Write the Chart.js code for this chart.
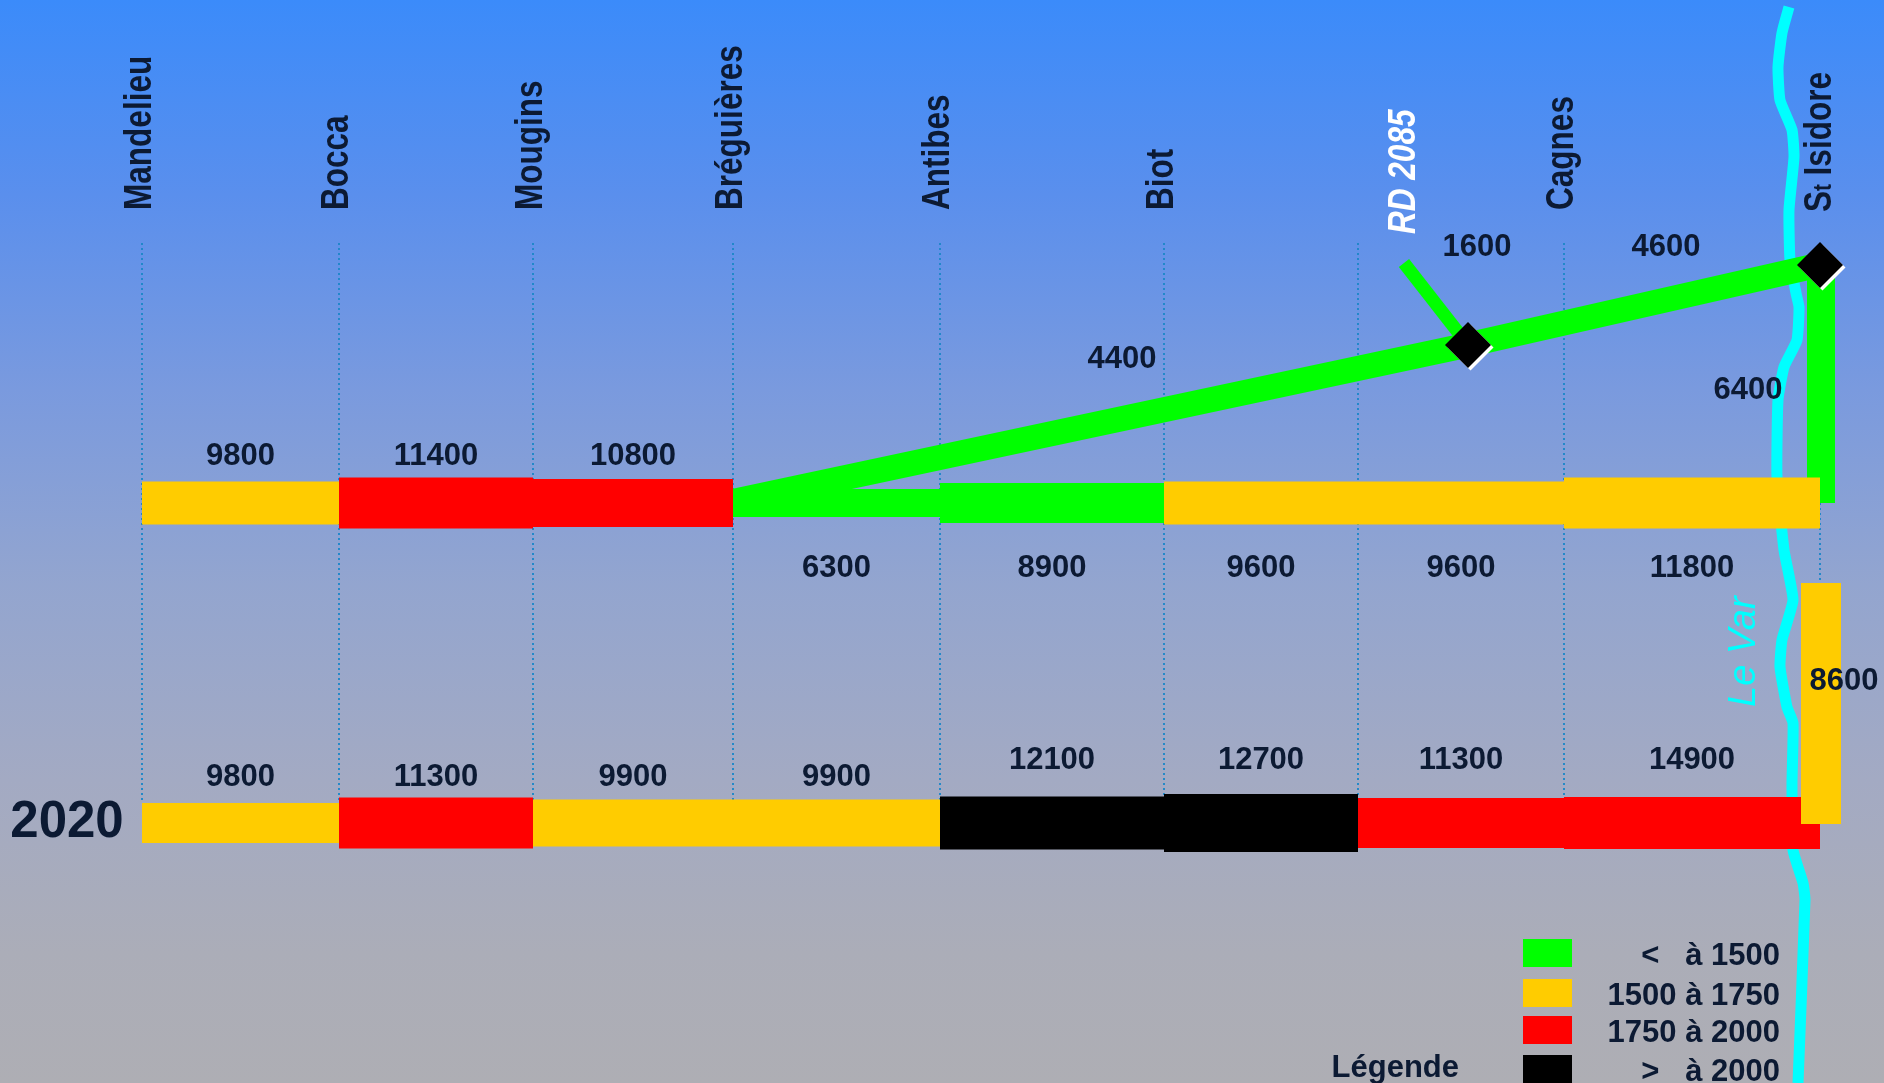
<!DOCTYPE html>
<html>
<head>
<meta charset="utf-8">
<script src="https://cdn.jsdelivr.net/npm/chart.js@4.4.1/dist/chart.umd.min.js"></script>
<style>
html, body { margin: 0; padding: 0; overflow: hidden; }
#wrap {
    position: relative; width: 1884px; height: 1083px;
    background: linear-gradient(to bottom, #3b8bfa 0%, #5a8fed 18%, #7a9ade 36%, #93a5cf 54%, #a3aac3 72%, #abadb8 88%, #aeaeb4 100%);
}
</style>
</head>
<body>
<div id="wrap"><canvas id="chart"></canvas></div>
<script>
// échangeurs de l'A8, d'ouest en est
const stations = ["Mandelieu", "Bocca", "Mougins", "Bréguières", "Antibes", "Biot", "RD 2085", "Cagnes", "St Isidore"];
const stationKm = [0, 9.85, 19.55, 29.55, 39.9, 51.1, 60.8, 71.1, 83.9];

// trafic entre deux échangeurs (véh/h) et classe de couleur
const traffic2020 = [9800, 11300, 9900, 9900, 12100, 12700, 11300, 14900];
const class2020 = [1, 2, 1, 1, 3, 3, 2, 2];
const trafficProjet = [9800, 11400, 10800, 6300, 8900, 9600, 9600, 11800];
const classProjet = [1, 2, 2, 0, 0, 1, 1, 1];

// nouvelle liaison Bréguières -> RD 2085 -> St Isidore
const trafficLiaison = [4400, 4600];
const trafficRD2085 = 1600;
const trafficDescente = 6400;
const trafficVar = 8600;
const classLiaison = 0;
const classVar = 1;

// légende
const classLabels = ["<   à 1500", "1500 à 1750", "1750 à 2000", ">   à 2000"];
const classColors = ["#00ff00", "#ffcc00", "#ff0000", "#000000"];

// mise en page (niveau 0 = 2020, niveau 1 = projet)
const width2020 = [40, 51, 47, 47, 53, 58, 50, 52];
const widthProjet = [43, 51, 48, 28, 40, 43, 43, 51];
const nodeRD = { x: 66.3, y: 1.494 };
const nodeIsidore = { x: 83.9, y: 1.744 };
const stubEnd = { x: 63.1, y: 1.75 };
const river = [
    [82.35, 2.55], [82.0, 2.469], [81.8, 2.3625], [81.9, 2.259], [82.5, 2.166], [82.6, 2.081],
    [82.35, 1.916], [82.4, 1.759], [82.7, 1.656], [82.85, 1.6125], [82.75, 1.509], [82.1, 1.425],
    [81.8, 1.322], [81.75, 1.081], [82.1, 0.853], [82.55, 0.697], [82.0, 0.572], [81.9, 0.4875],
    [82.25, 0.3625], [82.55, 0.3125], [82.5, 0.125], [82.55, -0.084], [83.05, -0.1875],
    [83.15, -0.24], [82.8, -0.8125]
];
const TEXT = "#0c1a33";
const FONT = "'Liberation Sans', Arial, sans-serif";

const datasets = [];

datasets.push({
    data: river.map(p => ({ x: p[0], y: p[1] })),
    borderColor: "#00ffff", borderWidth: 11, tension: 0.15,
    borderJoinStyle: "round", order: 10
});

stationKm.forEach(km => {
    datasets.push({
        data: [{ x: km, y: 0.072 }, { x: km, y: 1.822 }],
        borderColor: "rgba(30,135,200,0.95)", borderWidth: 2, borderDash: [2, 3], order: 9
    });
});

// liaison nouvelle (vert)
const liaison = [
    [{ x: stationKm[3], y: 1.005 }, nodeRD],
    [nodeRD, nodeIsidore],
    [stubEnd, nodeRD],
    [{ x: nodeIsidore.x + 0.05, y: nodeIsidore.y }, { x: nodeIsidore.x + 0.05, y: 1.0 }]
];
const liaisonWidth = [25, 25, 13, 28];
liaison.forEach((seg, i) => {
    datasets.push({
        data: seg,
        borderColor: classColors[classLiaison], borderWidth: liaisonWidth[i], order: 8
    });
});

for (let i = 0; i < 8; i++) {
    datasets.push({
        data: [{ x: stationKm[i], y: 1 }, { x: stationKm[i + 1], y: 1 }],
        borderColor: classColors[classProjet[i]], borderWidth: widthProjet[i], order: 7
    });
    datasets.push({
        data: [{ x: stationKm[i], y: 0 }, { x: stationKm[i + 1], y: 0 }],
        borderColor: classColors[class2020[i]], borderWidth: width2020[i], order: 7
    });
}

// le Var (vers le nord)
datasets.push({
    data: [{ x: stationKm[8] + 0.05, y: 0.75 }, { x: stationKm[8] + 0.05, y: -0.003 }],
    borderColor: classColors[classVar], borderWidth: 40, order: 6
});

const diamondIndex = datasets.length;
datasets.push({
    data: [nodeRD, nodeIsidore],
    showLine: false, pointStyle: "rectRot", pointRadius: 23,
    pointBackgroundColor: "#000", pointBorderWidth: 0, order: 5
});

function vText(ctx, text, x, y, font, color, sx) {
    ctx.save();
    ctx.translate(x, y);
    ctx.rotate(-Math.PI / 2);
    ctx.scale(sx, 1);
    ctx.font = font;
    ctx.fillStyle = color;
    ctx.textAlign = "left";
    ctx.textBaseline = "alphabetic";
    ctx.fillText(text, 0, 0);
    ctx.restore();
}

const shadowPlugin = {
    id: "shadow",
    beforeDatasetDraw(chart, args) {
        if (args.index === diamondIndex) {
            chart.ctx.save();
            chart.ctx.shadowColor = "#ffffff";
            chart.ctx.shadowOffsetX = 2.5;
            chart.ctx.shadowOffsetY = 2.5;
        }
    },
    afterDatasetDraw(chart, args) {
        if (args.index === diamondIndex) chart.ctx.restore();
    }
};

const textPlugin = {
    id: "texts",
    afterDatasetsDraw(chart) {
        const ctx = chart.ctx;
        const sx = v => chart.scales.x.getPixelForValue(v);
        const sy = v => chart.scales.y.getPixelForValue(v);
        const num = (val, x, y, size) => {
            ctx.font = "bold " + size + "px " + FONT;
            ctx.fillStyle = TEXT;
            ctx.textAlign = "center";
            ctx.textBaseline = "alphabetic";
            ctx.fillText(String(val), sx(x), sy(y) + 0.358 * size);
        };
        ctx.save();

        for (let i = 0; i < 8; i++) {
            const mid = (stationKm[i] + stationKm[i + 1]) / 2;
            num(trafficProjet[i], mid, i < 3 ? 1.153 : 0.803, 31);
            num(traffic2020[i], mid, i < 4 ? 0.15 : 0.203, 31);
        }
        num(trafficLiaison[0], 49, 1.456, 31);
        num(trafficLiaison[1], 76.2, 1.806, 31);
        num(trafficRD2085, 66.75, 1.806, 31);
        num(trafficDescente, 80.3, 1.359, 31);
        num(trafficVar, 85.1, 0.45, 31);

        ctx.font = "bold 51px " + FONT;
        ctx.fillStyle = TEXT;
        ctx.textAlign = "center";
        ctx.fillText("2020", 67, 837);

        // noms des échangeurs
        const f = "bold 38px " + FONT;
        stations.forEach((name, i) => {
            if (i === 6 || i === 8) return;
            vText(ctx, name, sx(stationKm[i]) + 9, sy(1.9156), f, TEXT, 0.83);
        });
        vText(ctx, stations[6], sx(63.2) + 9, sy(1.8406), "italic bold 38px " + FONT, "#ffffff", 0.83);

        // St Isidore avec le t réduit
        ctx.save();
        ctx.translate(sx(stationKm[8]) + 11, sy(1.909));
        ctx.rotate(-Math.PI / 2);
        ctx.scale(0.83, 1);
        ctx.fillStyle = TEXT;
        ctx.textAlign = "left";
        ctx.font = f;
        ctx.fillText("S", 0, 0);
        let w = ctx.measureText("S").width;
        ctx.font = "bold 25px " + FONT;
        ctx.fillText("t", w, 0);
        w += ctx.measureText("t").width;
        ctx.font = f;
        ctx.fillText(" Isidore", w, 0);
        ctx.restore();

        vText(ctx, "Le Var", 1755, 707, "italic 38px " + FONT, "#00ffff", 1);

        // légende
        const tops = [939, 979, 1016, 1055];
        classLabels.forEach((lab, i) => {
            ctx.fillStyle = classColors[i];
            ctx.fillRect(1523, tops[i], 49, 28);
            ctx.font = "bold 31px " + FONT;
            ctx.fillStyle = TEXT;
            ctx.textAlign = "right";
            ctx.fillText(lab, 1780, tops[i] + 26);
        });
        ctx.textAlign = "right";
        ctx.fillText("Légende", 1459, 1077);
        ctx.restore();
    }
};

new Chart(document.getElementById("chart").getContext("2d"), {
    type: "line",
    data: { datasets: datasets },
    options: {
        responsive: true,
        maintainAspectRatio: false,
        animation: false,
        events: [],
        layout: { padding: 0, autoPadding: false },
        elements: { point: { radius: 0 }, line: { tension: 0, borderCapStyle: "butt" } },
        plugins: { legend: { display: false }, tooltip: { enabled: false } },
        scales: {
            x: { type: "linear", display: false, min: -7.1, max: 87.1 },
            y: { type: "linear", display: false, min: -0.8125, max: 2.571875 }
        }
    },
    plugins: [shadowPlugin, textPlugin]
});
</script>
</body>
</html>
